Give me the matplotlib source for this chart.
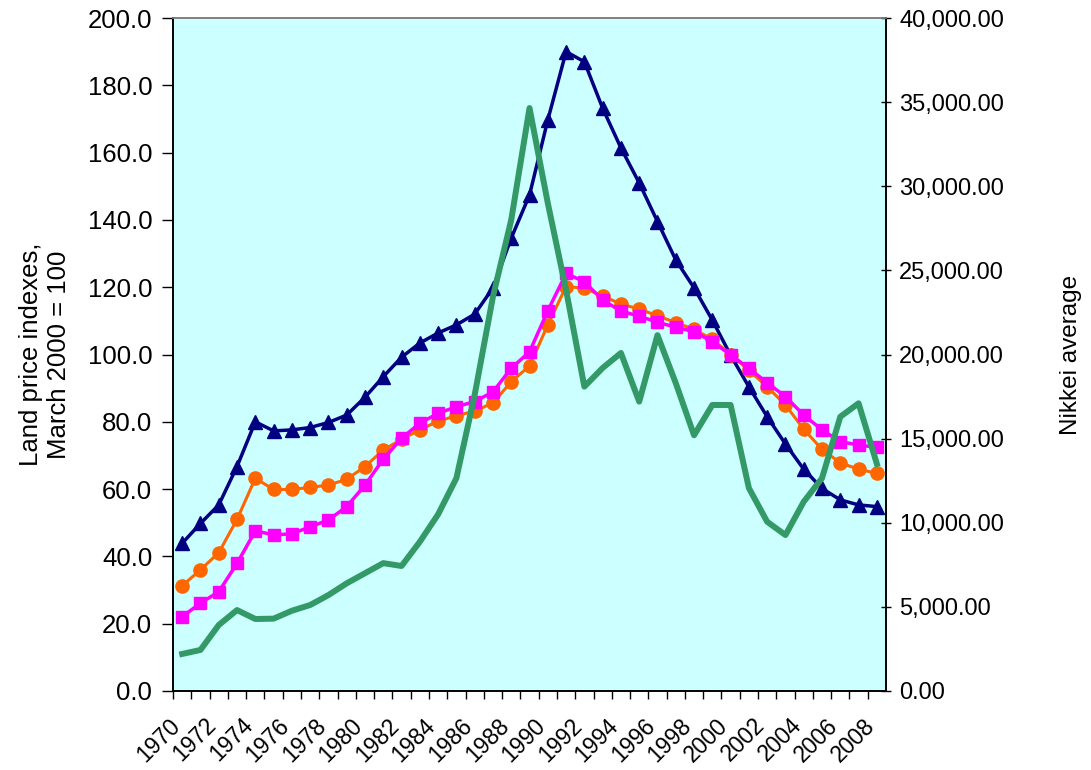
import matplotlib
matplotlib.use('Agg')
import matplotlib.pyplot as plt
from matplotlib.ticker import FuncFormatter, MultipleLocator, NullFormatter
from matplotlib.transforms import ScaledTranslation
import numpy as np

plt.rcParams['font.family'] = ['Liberation Sans', 'DejaVu Sans']

# Données
annees = list(range(1970, 2009))
etiquettes = [str(a) if a % 2 == 0 else '' for a in annees]

indice_bleu = [43.9, 49.8, 55.3, 66.7, 80.0, 77.3, 77.6, 78.3, 79.8, 82.0,
               87.3, 93.4, 99.2, 103.4, 106.4, 108.8, 112.0, 119.8, 134.6, 147.4,
               169.7, 190.0, 187.0, 173.2, 161.4, 151.0, 139.5, 128.1, 119.8, 110.2,
               99.8, 90.4, 81.5, 73.4, 65.9, 60.2, 56.8, 55.3, 54.8]
indice_orange = [31.3, 36.0, 41.1, 51.0, 63.2, 59.9, 59.9, 60.5, 61.2, 62.9,
                 66.7, 71.6, 74.8, 77.6, 80.2, 81.8, 83.2, 85.6, 91.9, 96.6,
                 108.8, 120.2, 119.7, 117.4, 115.0, 113.5, 111.5, 109.5, 107.5, 104.5,
                 100.0, 95.3, 90.4, 85.0, 77.8, 71.8, 67.8, 65.9, 64.7]
indice_magenta = [22.1, 26.1, 29.5, 37.9, 47.6, 46.4, 46.7, 48.8, 50.8, 54.8,
                  61.2, 68.9, 75.1, 79.6, 82.5, 84.5, 86.0, 88.9, 95.9, 100.8,
                  113.0, 124.1, 121.6, 116.2, 112.9, 111.4, 109.6, 108.1, 106.8, 103.8,
                  99.9, 95.9, 91.6, 87.5, 82.0, 77.6, 74.1, 73.1, 72.4]
nikkei = [2200, 2440, 3920, 4810, 4280, 4300, 4770, 5110, 5700, 6400,
          7000, 7600, 7430, 8870, 10500, 12650, 17600, 23440, 28000, 34650,
          29000, 23830, 18090, 19200, 20090, 17200, 21150, 18300, 15200, 17000,
          17000, 12060, 10060, 9270, 11250, 12650, 16300, 17100, 13500]

x = np.arange(len(annees))

fig = plt.figure(figsize=(10.91, 7.70), dpi=100)
ax = fig.add_axes([0.1586, 0.1026, 0.6535, 0.8740])
ax.set_facecolor('#CCFFFF')

ax.plot(x, indice_bleu, color='#000080', marker='^', markersize=10.5, linewidth=2.5)
ax.plot(x, indice_orange, color='#FF6600', marker='o', markersize=9.5, linewidth=2.2)
ax.plot(x, indice_magenta, color='#FF00FF', marker='s', markersize=9, linewidth=2.5)

ax.set_xlim(-0.5, len(annees) - 0.5)
ax.set_ylim(0, 200)
ax.yaxis.set_major_locator(MultipleLocator(20))
ax.yaxis.set_major_formatter(FuncFormatter(lambda v, p: f'{v:.1f}'))

# graduations entre les catégories, étiquettes inclinées
ax.set_xticks(x - 0.5)
ax.xaxis.set_major_formatter(NullFormatter())
ax.tick_params(axis='x', length=6, width=1, direction='out')
decalage = ScaledTranslation(-6 / 100, -31 / 100, fig.dpi_scale_trans)
for xi, lab in zip(x, etiquettes):
    if lab:
        ax.text(xi, 0, lab, transform=ax.get_xaxis_transform() + decalage,
                rotation=45, ha='right', va='center', rotation_mode='anchor',
                fontsize=16.5, clip_on=False)

ax.tick_params(axis='y', labelsize=18.5, length=8, width=1, direction='out', pad=7)
ax.set_ylabel('Land price indexes,\nMarch 2000 = 100', fontsize=18.5, labelpad=12)

ax2 = ax.twinx()
ax2.plot(x, nikkei, color='#339966', linewidth=4.3, solid_joinstyle='round')
ax2.set_ylim(0, 40000)
ax2.yaxis.set_major_locator(MultipleLocator(5000))
ax2.yaxis.set_major_formatter(FuncFormatter(lambda v, p: f'{v:,.2f}'))
ax2.tick_params(axis='y', labelsize=17, length=7, width=1, direction='inout', pad=6)
ax2.set_ylabel('Nikkei average', fontsize=17.5, labelpad=40)

for a in (ax, ax2):
    a.spines['top'].set_color('#808080')
    a.spines['left'].set_color('black')
    a.spines['right'].set_color('black')
    a.spines['bottom'].set_color('black')
    for s in a.spines.values():
        s.set_linewidth(1.2)

fig.savefig('out.png', dpi=100, facecolor='white')
plt.close()
